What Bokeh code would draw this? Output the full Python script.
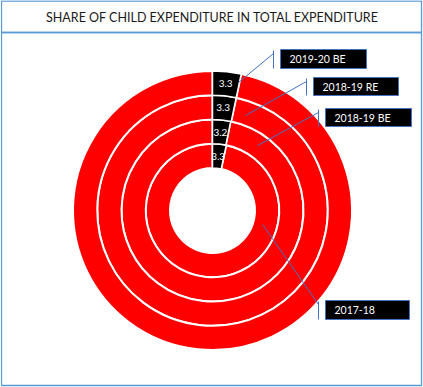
import math
from bokeh.plotting import figure
from bokeh.models import Range1d, ColumnDataSource
from bokeh.core.properties import value
from bokeh.embed import file_html
from bokeh.resources import INLINE

# ---- data (inner ring -> outer ring) ----
series = ["2017-18", "2018-19 BE", "2018-19 RE", "2019-20 BE"]
child_share = [3.3, 3.2, 3.3, 3.3]
title_text = "SHARE OF CHILD EXPENDITURE IN TOTAL EXPENDITURE"

# ---- layout (reference pixel space, y measured from top) ----
REF_W, REF_H = 423, 387
W, H = 423, 387
CX, CY = 212, 210
R_IN, R_OUT = 42.5, 139.5
FONT = "Lato"
BLUE_FRAME = "#5B9BD5"
BLUE_LINE = "#4472C4"

def Y(v):
    return REF_H - v

p = figure(width=W, height=H, x_range=Range1d(0, REF_W), y_range=Range1d(0, REF_H),
           output_backend="svg", toolbar_location=None, min_border=0)
p.axis.visible = False
p.grid.visible = False
p.outline_line_color = None
p.background_fill_color = "white"
p.border_fill_color = "white"

# frames
p.quad(left=[1], right=[421], top=[Y(0.5)], bottom=[Y(32)], fill_color=None,
       line_color=BLUE_FRAME, line_width=1.3)
p.quad(left=[1], right=[421], top=[Y(32)], bottom=[Y(385)], fill_color=None,
       line_color=BLUE_FRAME, line_width=1.3)

p.text(x=[212], y=[Y(17)], text=[title_text], text_align="center", text_baseline="middle",
       text_font=value(FONT), text_font_size="12.5px", text_color="#1a1a1a")

# rings
n = len(series)
rw = (R_OUT - R_IN) / n
inner_r, outer_r, b_start, b_end, lab_x, lab_y, lab_t = [], [], [], [], [], [], []
for i, v in enumerate(child_share):
    ri = R_IN + i * rw
    ro = ri + rw
    th = v / 100 * 2 * math.pi
    inner_r.append(ri)
    outer_r.append(ro)
    b_start.append(math.pi / 2 - th)
    b_end.append(math.pi / 2)
    rm = (ri + ro) / 2
    a = math.pi / 2 - th / 2
    lab_x.append(CX + rm * math.cos(a))
    lab_y.append(Y(CY) + rm * math.sin(a))
    lab_t.append(f"{v:.1f}")

src = ColumnDataSource(dict(ri=inner_r, ro=outer_r, bs=b_start, be=b_end,
                            x=[CX] * n, y=[Y(CY)] * n))
# red remainder
p.annular_wedge(x="x", y="y", inner_radius="ri", outer_radius="ro", start_angle="be",
                end_angle="bs", fill_color="#FF0000", line_color="white", line_width=2,
                source=src)
# black child share
p.annular_wedge(x="x", y="y", inner_radius="ri", outer_radius="ro", start_angle="bs",
                end_angle="be", fill_color="black", line_color="white", line_width=1.5,
                source=src)
p.text(x=lab_x, y=lab_y, text=lab_t, text_align="center", text_baseline="middle",
       text_font=value(FONT), text_font_size="10px", text_color="white")

# series label boxes (ref px): left, right, top, bottom, anchor point
boxes = {
    "2019-20 BE": (280, 366, 49, 68, (238, 82)),
    "2018-19 RE": (313, 398, 77, 95, (245, 115)),
    "2018-19 BE": (325, 411, 108, 126, (257, 145)),
    "2017-18": (325, 409, 300, 319, (262, 224)),
}
for name in series:
    l, r, t, b, (ax, ay) = boxes[name]
    tx = l - 7
    p.quad(left=[l], right=[r], top=[Y(t)], bottom=[Y(b)], fill_color="black",
           line_color=BLUE_LINE, line_width=1)
    p.segment(x0=[tx], y0=[Y(t + 1)], x1=[tx], y1=[Y(b)], line_color=BLUE_LINE, line_width=1)
    p.segment(x0=[ax], y0=[Y(ay)], x1=[tx], y1=[Y(t + 4)], line_color=BLUE_LINE, line_width=1)
    p.text(x=[l + 9], y=[Y((t + b) / 2)], text=[name], text_align="left",
           text_baseline="middle", text_font=value(FONT), text_font_size="10.5px",
           text_color="white")

open("out.html", "w").write(file_html(p, INLINE))
